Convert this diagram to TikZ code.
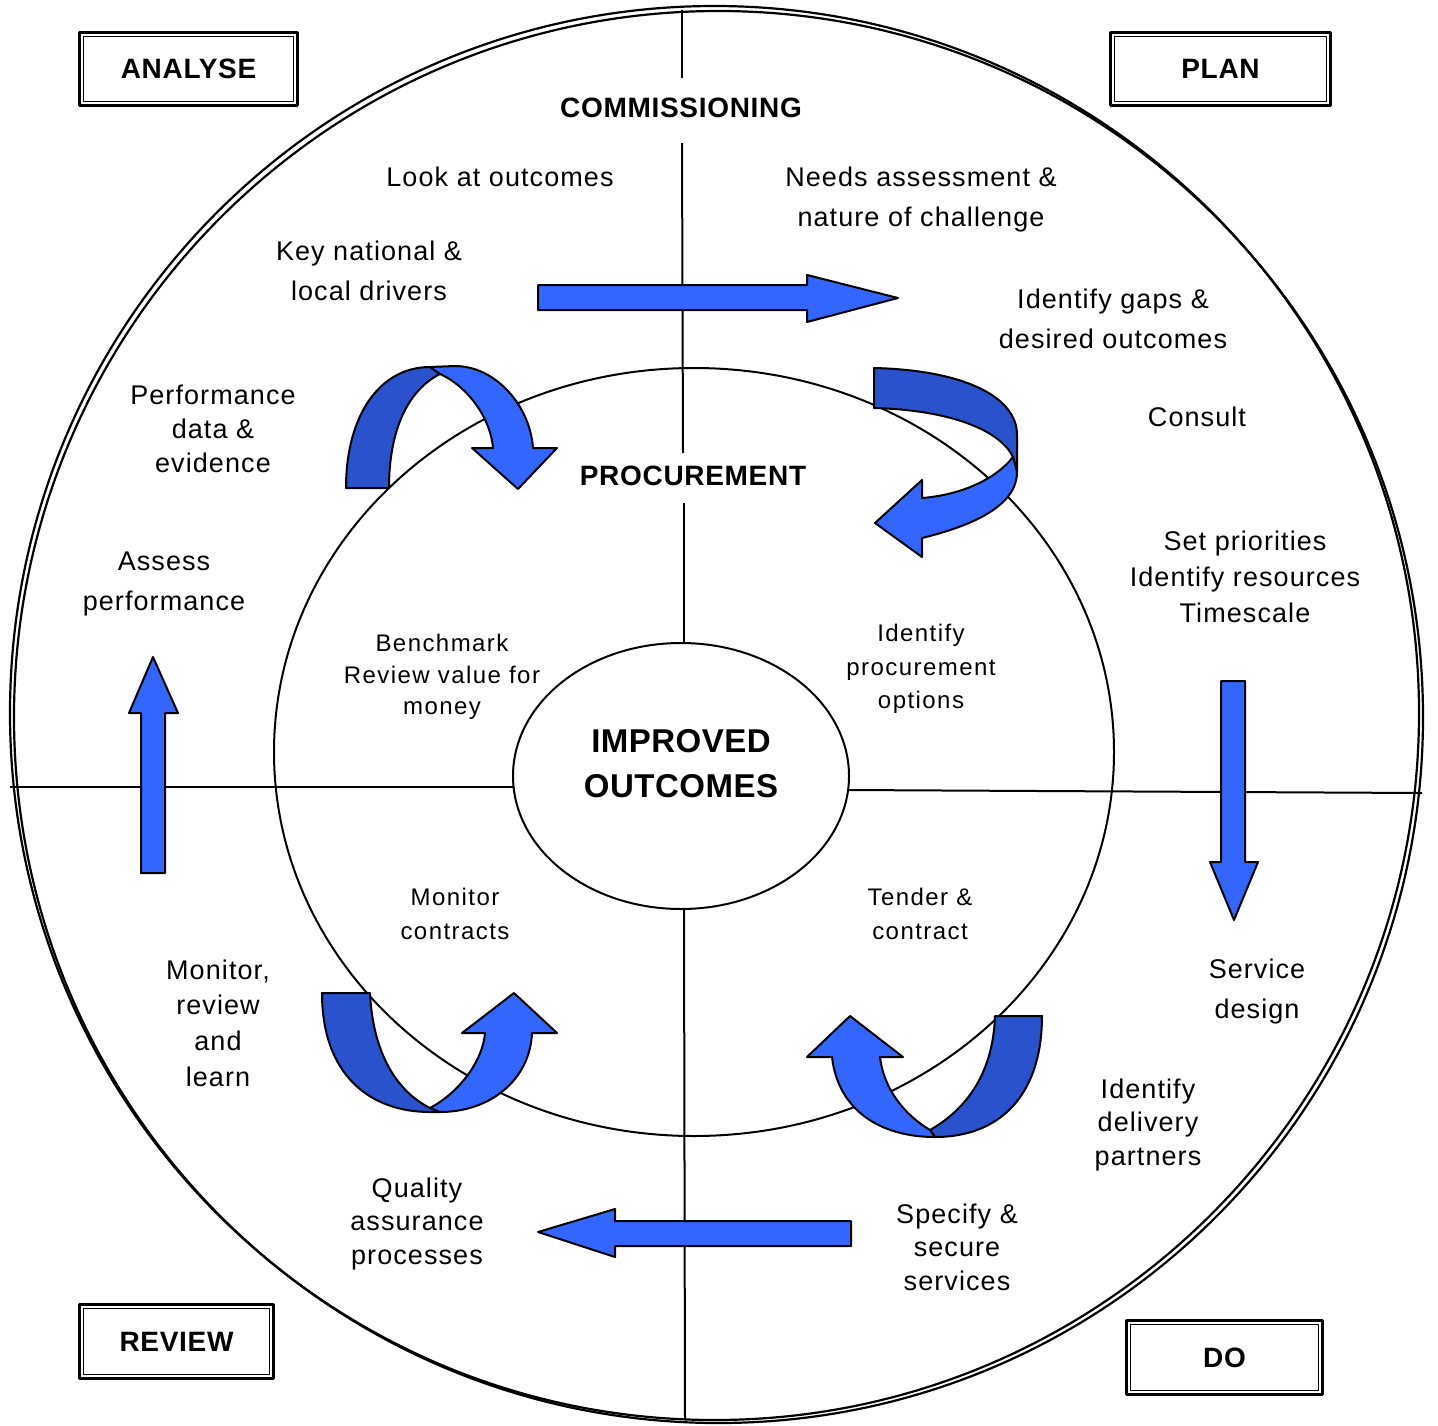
\documentclass[tikz,border=0pt]{standalone}
\usepackage{fontspec}
\setmainfont{Liberation Sans}
\usetikzlibrary{shapes.geometric}
\definecolor{lightblu}{RGB}{51,102,255}
\definecolor{darkblu}{RGB}{41,82,204}
\newcommand\myfs[2]{\fontsize{#1}{#2}\selectfont}
\newcommand\lsp[1]{\addfontfeature{LetterSpace=#1}}
\begin{document}
\begin{tikzpicture}[x=1pt,y=-1pt, line join=round,
 ln/.style={line width=2pt},
 lbl/.style={inner sep=0pt, align=center, font=\myfs{27}{40}\lsp{4}},
 inr/.style={inner sep=0pt, align=center, font=\myfs{24}{33}\lsp{6}},
 hdr/.style={inner sep=0pt, align=center, font=\bfseries\myfs{28}{34}\lsp{2.5}},
 blk/.style={draw=black, line width=2pt, fill=lightblu},
 blkd/.style={draw=black, line width=2pt, fill=darkblu},
 stagebox/.style={draw, line width=2.6pt, inner sep=0pt, font=\bfseries\myfs{28}{34}\lsp{2.5}},
 innerframe/.style={line width=1.2pt}]
\useasboundingbox (0,0) rectangle (1438,1425);

% outer double ring
\draw[line width=2.2pt] (714.5,713) ellipse [x radius=704.5pt, y radius=707pt];
\draw[line width=2.2pt] (718.5,717) ellipse [x radius=704.5pt, y radius=706pt];
% inner ring
\draw[ln] (694,752) ellipse [x radius=420pt, y radius=384pt];
% core
\node (core) [draw, ln, ellipse, minimum width=336pt, minimum height=266pt, inner sep=0pt] at (681,776) {};

% dividing lines
\coordinate (t1) at (682,10);  \coordinate (t2) at (682,78);
\coordinate (t3) at (682,143); \coordinate (t4) at (683,453);
\coordinate (t5) at (684,503); \coordinate (t6) at (684,643);
\coordinate (b1) at (684,909); \coordinate (b2) at (685,1420);
\coordinate (l1) at (10,787);  \coordinate (l2) at (513.5,787);
\coordinate (r1) at (848.5,790); \coordinate (r2) at (1422,793);
\draw[ln] (t1) -- (t2);
\draw[ln] (t3) -- (t4);
\draw[ln] (t5) -- (t6);
\draw[ln] (b1) -- (b2);
\draw[ln] (l1) -- (l2);
\draw[ln] (r1) -- (r2);

% straight block arrows
\draw[blk] (538,285) -- (807,285) -- (807,275) -- (898,298) -- (807,322) -- (807,310) -- (538,310) -- cycle;
\draw[blk] (1221,681) -- (1245,681) -- (1245,862) -- (1258,862) -- (1234,920) -- (1210,862) -- (1221,862) -- cycle;
\draw[blk] (851,1221) -- (615,1221) -- (615,1209) -- (538,1232) -- (615,1257) -- (615,1246) -- (851,1246) -- cycle;
\draw[blk] (141,873) -- (141,713) -- (129,713) -- (153,657) -- (178,713) -- (165,713) -- (165,873) -- cycle;

% curved arrow top-left
\draw[blkd] (346,488) .. controls (346,415) and (380,367) .. (430,367) -- (440,374) .. controls (408,390) and (389,430) .. (389,488) -- cycle;
\draw[blk] (430,367) -- (455,366) .. controls (495,366) and (530,405) .. (533,448) -- (557,448) -- (518,489) -- (472,448) -- (493,448) .. controls (490,415) and (465,385) .. (440,374) -- cycle;

% curved arrow top-right
\draw[blkd] (874,368) .. controls (960,370) and (1017,395) .. (1017,435) -- (1017,472) -- (1013,457) .. controls (1000,430) and (950,410) .. (874,408) -- cycle;
\draw[blk] (1013,457) .. controls (995,480) and (960,495) .. (922,498) -- (922,480) -- (875,523) -- (922,557) -- (922,538) .. controls (975,525) and (1017,505) .. (1017,472) -- cycle;

% curved arrow bottom-left
\draw[blkd] (322,993) -- (370,993) .. controls (373,1055) and (398,1092) .. (430,1108) -- (440,1112) -- (430,1112) .. controls (370,1112) and (322,1075) .. (322,993) -- cycle;
\draw[blk] (430,1108) .. controls (460,1092) and (483,1060) .. (485,1033) -- (462,1033) -- (514,993) -- (557,1033) -- (532,1033) .. controls (530,1080) and (490,1112) .. (440,1112) -- cycle;

% curved arrow bottom-right
\draw[blkd] (995,1016) -- (1042,1016) .. controls (1042,1095) and (1000,1137) .. (935,1137) -- (930,1130) .. controls (965,1110) and (993,1075) .. (995,1016) -- cycle;
\draw[blk] (930,1130) .. controls (905,1115) and (884,1090) .. (880,1057) -- (903,1057) -- (850,1016) -- (807,1057) -- (832,1057) .. controls (838,1110) and (880,1137) .. (935,1137) -- cycle;

% stage boxes
\node (analyse) [stagebox, minimum width=218pt, minimum height=73pt] at (188.5,69) {ANALYSE};
\draw[innerframe] ([shift={(5.5,5.5)}]analyse.north west) rectangle ([shift={(-5.5,-5.5)}]analyse.south east);
\node (plan) [stagebox, minimum width=220pt, minimum height=73pt] at (1220.5,69) {PLAN};
\draw[innerframe] ([shift={(5.5,5.5)}]plan.north west) rectangle ([shift={(-5.5,-5.5)}]plan.south east);
\node (review) [stagebox, minimum width=194pt, minimum height=74pt] at (176.5,1341.5) {REVIEW};
\draw[innerframe] ([shift={(5.5,5.5)}]review.north west) rectangle ([shift={(-5.5,-5.5)}]review.south east);
\node (do) [stagebox, minimum width=196pt, minimum height=74pt] at (1224.5,1357.5) {DO};
\draw[innerframe] ([shift={(5.5,5.5)}]do.north west) rectangle ([shift={(-5.5,-5.5)}]do.south east);

% headings
\node (comm) [hdr] at (681,108) {COMMISSIONING};
\node (proc) [hdr] at (693,476) {PROCUREMENT};
\node (impr) [inner sep=0pt, align=center, font=\bfseries\myfs{33}{45}\lsp{1.5}] at (681,764) {IMPROVED\\OUTCOMES};

% outer ring texts
\node (look) [lbl] at (500,177) {Look at outcomes};
\node (needs) [lbl] at (921,200) {Needs assessment \&\\nature of challenge};
\node (keyn) [lbl] at (369,271) {Key national \&\\local drivers};
\node (gaps) [lbl] at (1113,319) {Identify gaps \&\\desired outcomes};
\node (consult) [lbl] at (1197,417) {Consult};
\node (perf) [lbl, font=\myfs{27}{34}\lsp{4}] at (213,429) {Performance\\data \&\\evidence};
\node (prio) [lbl, font=\myfs{27}{36}\lsp{4}] at (1245,577) {Set priorities\\Identify resources\\Timescale};
\node (assess) [lbl] at (164,584) {Assess\\performance};
\node (servd) [lbl] at (1257,992) {Service\\design};
\node (monrev) [lbl, font=\myfs{27}{35.7}\lsp{4}] at (218,1023) {Monitor,\\review\\and\\learn};
\node (deliv) [lbl, font=\myfs{27}{33.5}\lsp{4}] at (1148,1125) {Identify\\delivery\\partners};
\node (qual) [lbl, font=\myfs{27}{33.5}\lsp{4}] at (417,1224) {Quality\\assurance\\processes};
\node (spec) [lbl, font=\myfs{27}{33.5}\lsp{4}] at (957,1247) {Specify \&\\secure\\services};

% inner ring texts
\node (bench) [inr, font=\myfs{24}{31.5}\lsp{6}] at (442,677) {Benchmark\\Review value for\\money};
\node (procopt) [inr, font=\myfs{24}{33.5}\lsp{6}] at (921,669) {Identify\\procurement\\options};
\node (moncon) [inr, font=\myfs{24}{34}\lsp{6}] at (455,914) {Monitor\\contracts};
\node (tender) [inr, font=\myfs{24}{34}\lsp{6}] at (920,914) {Tender \&\\contract};
\end{tikzpicture}
\end{document}
